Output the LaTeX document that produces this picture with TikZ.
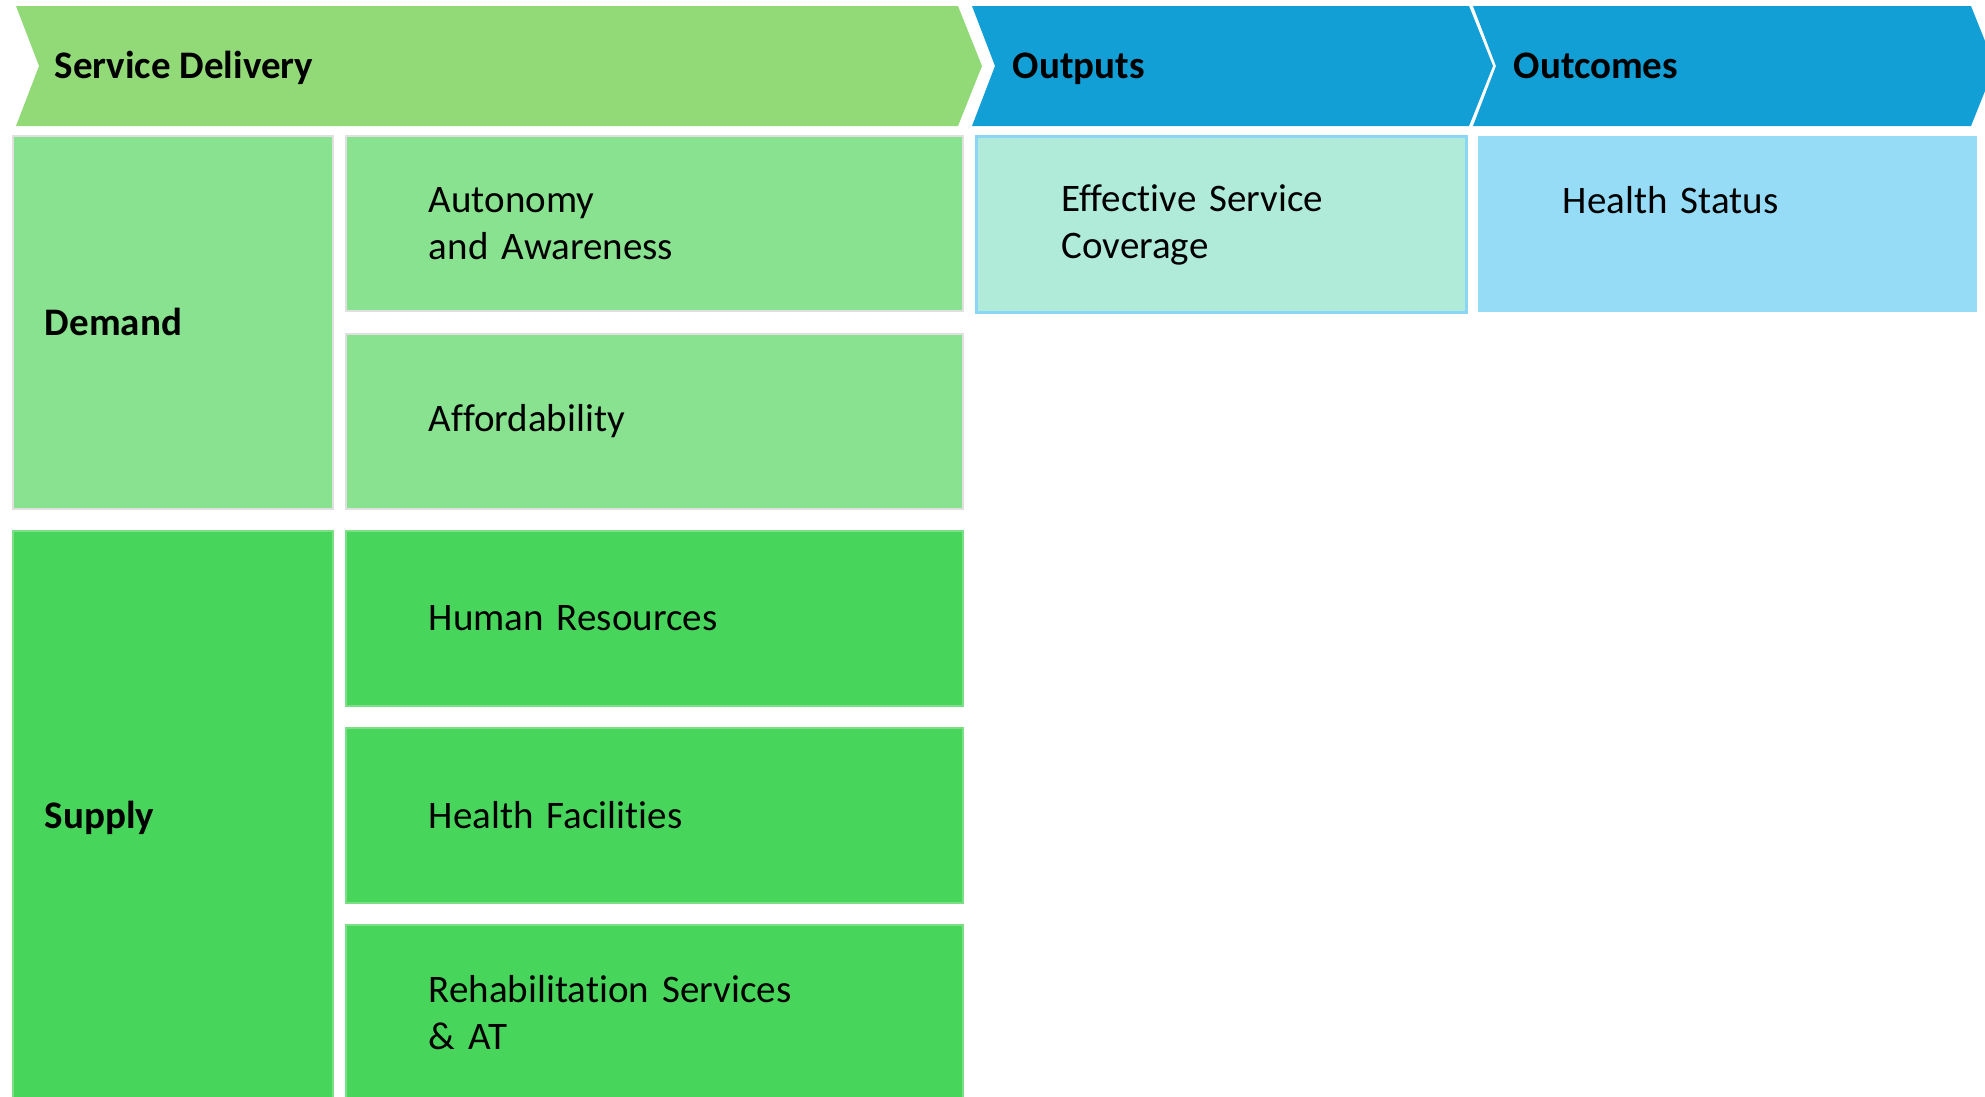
\documentclass[tikz,border=0pt]{standalone}
\usepackage{fontspec}
\setmainfont{Carlito}[Ligatures={NoCommon}]

\definecolor{chevgreen}{HTML}{92D978}
\definecolor{chevblue}{HTML}{129FD6}
\definecolor{lightgreen}{HTML}{89E290}
\definecolor{darkgreen}{HTML}{48D55C}
\definecolor{mint}{HTML}{B0EBD9}
\definecolor{skyblue}{HTML}{97DCF7}

\tikzset{
  txt/.style={font=\fontsize{11.1}{13.4}\selectfont, inner sep=0pt},
  head/.style={txt, font=\fontsize{11.1}{13.4}\selectfont\bfseries, anchor=base west},
  cell/.style={txt, anchor=north west, align=left, line width=0.5pt},
  demandcell/.style={cell, fill=lightgreen, draw=black!12},
  supplycell/.style={cell, fill=darkgreen, draw=lightgreen!80!darkgreen},
}

\begin{document}
\begin{tikzpicture}[x=1cm,y=-1cm]
\useasboundingbox (0,0) rectangle (19.85,10.96);

% header chevrons
\fill[chevgreen] (0.16,0.06) -- (9.58,0.06) -- (9.82,0.66) -- (9.58,1.26) -- (0.16,1.26) -- (0.39,0.66) -- cycle;
\fill[chevblue] (9.72,0.06) -- (14.69,0.06) -- (14.93,0.66) -- (14.69,1.26) -- (9.72,1.26) -- (9.95,0.66) -- cycle;
\fill[chevblue] (14.73,0.06) -- (19.71,0.06) -- (19.95,0.66) -- (19.71,1.26) -- (14.73,1.26) -- (14.96,0.66) -- cycle;

\node[head] (delivery) at (0.54,0.785) {Service Delivery};
\node[head] (outputs) at (10.12,0.785) {Outputs};
\node[head] (outcomes) at (15.13,0.785) {Outcomes};

% demand side
\node[demandcell, minimum width=3.20cm, minimum height=3.73cm, text width=2.56cm] (demand) at (0.12,1.35) {\textbf{Demand}};
\node[demandcell, minimum width=6.17cm, minimum height=1.75cm, text width=4.51cm] (autonomy) at (3.45,1.35) {Autonomy\\and Awareness};
\node[demandcell, minimum width=6.17cm, minimum height=1.75cm, text width=4.51cm] (afford) at (3.45,3.33) {Affordability};

% supply side
\node[supplycell, minimum width=3.20cm, minimum height=5.74cm, text width=2.56cm] (supply) at (0.12,5.30) {\textbf{Supply}};
\node[supplycell, minimum width=6.17cm, minimum height=1.75cm, text width=4.51cm] (human) at (3.45,5.30) {Human Resources};
\node[supplycell, minimum width=6.17cm, minimum height=1.75cm, text width=4.51cm] (facility) at (3.45,7.27) {Health Facilities};
\node[supplycell, minimum width=6.17cm, minimum height=1.75cm, text width=4.51cm] (rehab) at (3.45,9.24) {Rehabilitation Services\\\& AT};

% outputs and outcomes
\node[cell, fill=mint, draw=skyblue!90!chevblue, line width=0.9pt, minimum width=4.90cm, minimum height=1.76cm, text width=3.20cm] (coverage) at (9.75,1.35) {Effective Service\\Coverage};
\node[cell, fill=skyblue, minimum width=4.99cm, minimum height=1.76cm, text width=3.29cm] (status) at (14.77,1.35) {Health Status\\~};
\end{tikzpicture}
\end{document}
